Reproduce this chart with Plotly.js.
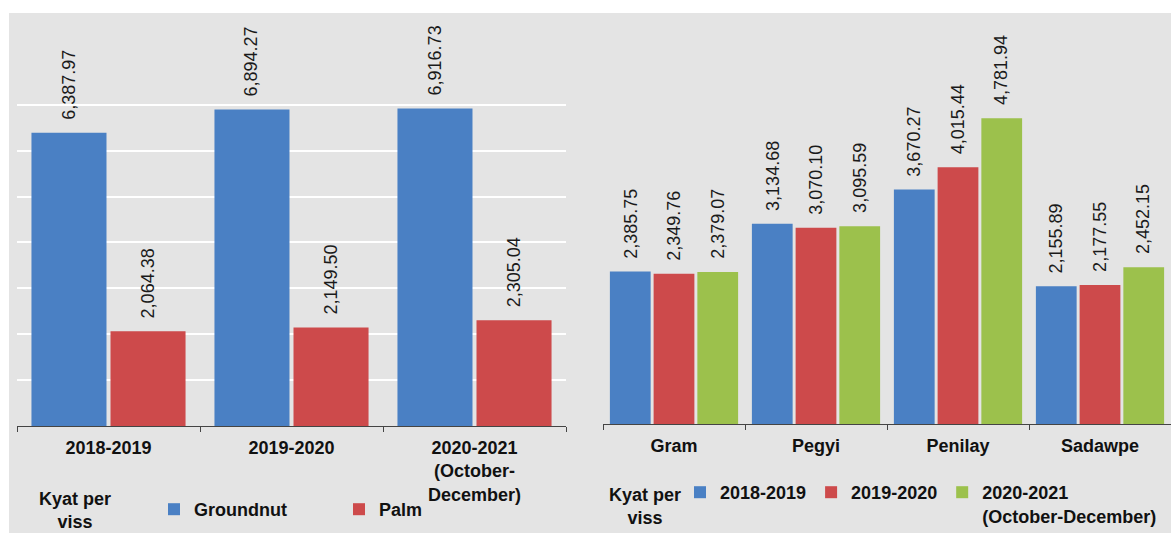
<!DOCTYPE html>
<html><head><meta charset="utf-8">
<script src="https://cdn.plot.ly/plotly-3.0.1.min.js"></script>
<style>html,body{margin:0;padding:0;background:#fff}#chart{width:1171px;height:534px}</style>
</head><body><div id="chart"></div>
<script>
// ---- data ----
const periods = ['2018-2019', '2019-2020', '2020-2021<br>(October-<br>December)'];
const groundnut = [6387.97, 6894.27, 6916.73];
const palm = [2064.38, 2149.50, 2305.04];
const oilNames = ['Groundnut', 'Palm'];

const pulses = ['Gram', 'Pegyi', 'Penilay', 'Sadawpe'];
const y2018 = [2385.75, 3134.68, 3670.27, 2155.89];
const y2019 = [2349.76, 3070.10, 4015.44, 2177.55];
const y2020 = [2379.07, 3095.59, 4781.94, 2452.15];
const pulseNames = ['2018-2019', '2019-2020', '2020-2021<br>(October-December)'];
const unitLabel = 'Kyat per<br>viss';

// ---- style ----
const BLUE = '#4a80c4', RED = '#cd4a4b', GREEN = '#9cc14c';
const FONT = 'Liberation Sans, Arial, sans-serif';
const W = 1171, H = 534;
const fmt = v => v.toLocaleString('en-US', {minimumFractionDigits: 2, maximumFractionDigits: 2});

const leftW = 0.41, leftOff = [-0.421, 0.011];
const rightW = 0.287, rightOff = [-0.4515, -0.1435, 0.1645];

const traces = [];
const annotations = [];
[[groundnut, BLUE], [palm, RED]].forEach(([vals, col], k) => {
  traces.push({type: 'bar', x: periods, y: vals, name: oilNames[k], xaxis: 'x', yaxis: 'y',
    legend: 'legend', width: leftW, offset: leftOff[k], marker: {color: col}, hoverinfo: 'skip'});
  vals.forEach((v, i) => annotations.push({xref: 'x', yref: 'y', x: i + leftOff[k] + leftW / 2, y: v,
    text: fmt(v), textangle: -90, showarrow: false, xanchor: 'center', yanchor: 'bottom', yshift: 11,
    font: {family: FONT, size: 18, color: '#1a1a1a'}}));
});
[[y2018, BLUE], [y2019, RED], [y2020, GREEN]].forEach(([vals, col], k) => {
  traces.push({type: 'bar', x: pulses, y: vals, name: pulseNames[k], xaxis: 'x2', yaxis: 'y2',
    legend: 'legend2', width: rightW, offset: rightOff[k], marker: {color: col}, hoverinfo: 'skip'});
  vals.forEach((v, i) => annotations.push({xref: 'x2', yref: 'y2', x: i + rightOff[k] + rightW / 2, y: v,
    text: fmt(v), textangle: -90, showarrow: false, xanchor: 'center', yanchor: 'bottom', yshift: 11,
    font: {family: FONT, size: 18, color: '#1a1a1a'}}));
});

annotations.push({xref: 'paper', yref: 'paper', x: 75 / W, y: (H - 511) / H, text: unitLabel,
  showarrow: false, xanchor: 'center', yanchor: 'middle', align: 'center',
  font: {family: FONT, size: 18, color: '#111', weight: 'bold'}});
annotations.push({xref: 'paper', yref: 'paper', x: 645 / W, y: (H - 507) / H, text: unitLabel,
  showarrow: false, xanchor: 'center', yanchor: 'middle', align: 'center',
  font: {family: FONT, size: 18, color: '#111', weight: 'bold'}});

const xCommon = {type: 'category', showline: true, linecolor: '#444', linewidth: 1,
  ticks: 'outside', tickson: 'boundaries', ticklen: 5, tickcolor: '#444', showgrid: false,
  ticklabelstandoff: 5,
  tickfont: {family: FONT, size: 18, color: '#111', weight: 'bold'}, fixedrange: true};

const layout = {
  width: W, height: H, margin: {l: 0, r: 0, t: 0, b: 0},
  paper_bgcolor: '#ffffff', plot_bgcolor: 'rgba(0,0,0,0)',
  barmode: 'overlay', showlegend: true, hovermode: false,
  xaxis: Object.assign({}, xCommon, {domain: [17 / W, 566 / W], anchor: 'y'}),
  xaxis2: Object.assign({}, xCommon, {domain: [603 / W, 1], anchor: 'y2'}),
  yaxis: {domain: [(H - 427) / H, (H - 68) / H], range: [0, 7800], dtick: 1000, showticklabels: false,
    showgrid: true, gridcolor: '#ffffff', gridwidth: 2, zeroline: false, showline: false, anchor: 'x', fixedrange: true},
  yaxis2: {domain: [(H - 425) / H, (H - 104.5) / H], range: [0, 5000], showticklabels: false,
    showgrid: false, zeroline: false, showline: false, anchor: 'x2', fixedrange: true},
  legend: {orientation: 'h', x: 154 / W, y: (H - 491) / H, xanchor: 'left', yanchor: 'top',
    bgcolor: 'rgba(0,0,0,0)', entrywidth: 140, traceorder: 'normal',
    font: {family: FONT, size: 18, color: '#111', weight: 'bold'}},
  legend2: {orientation: 'h', x: 680 / W, y: (H - 475) / H, xanchor: 'left', yanchor: 'top',
    bgcolor: 'rgba(0,0,0,0)', valign: 'top', traceorder: 'normal',
    font: {family: FONT, size: 18, color: '#111', weight: 'bold'}},
  shapes: [{type: 'rect', xref: 'paper', yref: 'paper', x0: 9 / W, x1: 1, y0: 0, y1: (H - 13) / H,
    fillcolor: '#e4e4e4', line: {width: 0}, layer: 'below'}],
  annotations: annotations
};

Plotly.newPlot('chart', traces, layout, {staticPlot: true, displayModeBar: false});
</script>
</body></html>
